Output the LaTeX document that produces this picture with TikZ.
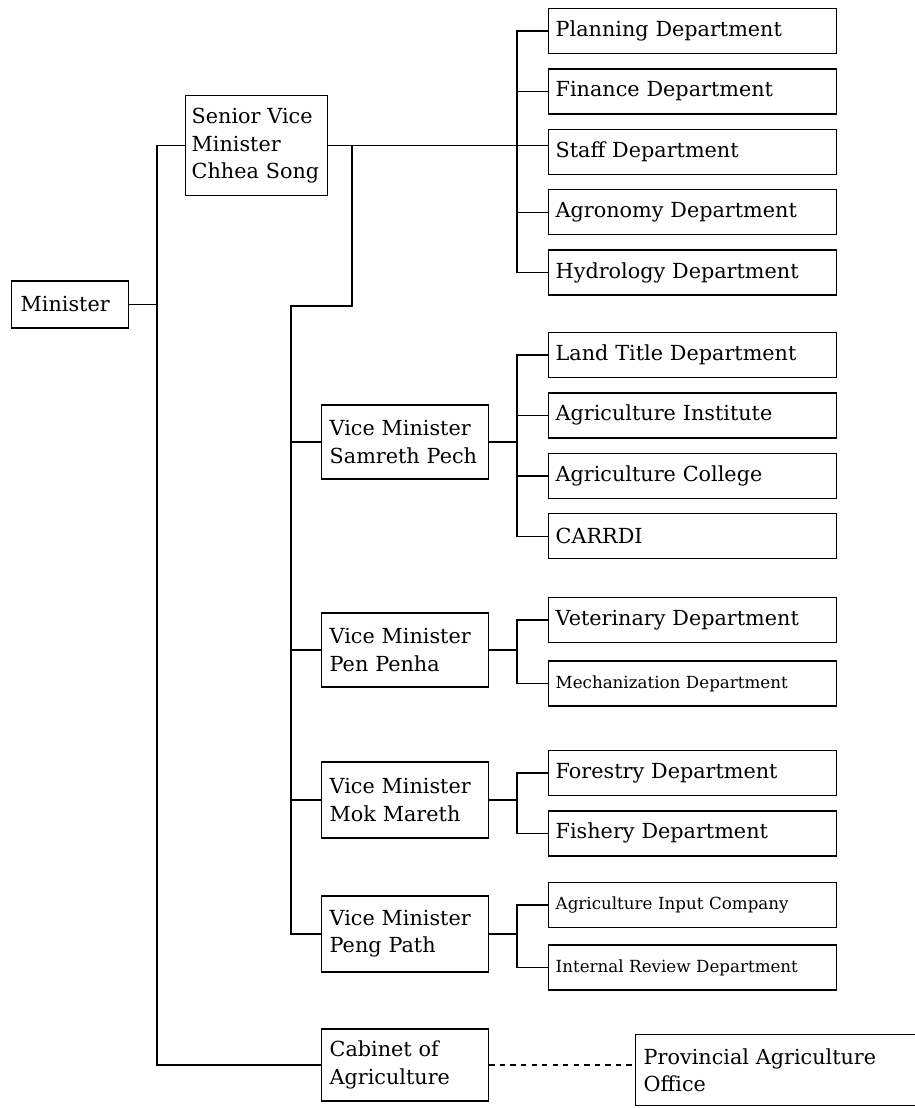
\documentclass[tikz,border=0pt]{standalone}
\usepackage{fontspec}
\setmainfont{DejaVu Serif}
\usetikzlibrary{positioning}
\tikzset{
every picture/.style=thick,
deptnode/.style={rectangle, draw=black, minimum height=0.9cm, text width=5.48cm, inner xsep=0.14cm, align=left, font=\fontsize{11.8}{15}\selectfont},
smalldept/.style={deptnode, font=\fontsize{9.5}{12}\selectfont},
vmnode/.style={rectangle, draw=black, minimum height=1.48cm, text width=3.02cm, inner xsep=0.16cm, align=left, font=\fontsize{11.8}{15.5}\selectfont}
}

\begin{document}
\begin{tikzpicture}[node distance=0.28]
\useasboundingbox (0,0) rectangle (18.3,-22.16);
%Nodes
\node [vmnode, text width=1.98cm, inner xsep=0.18cm, minimum height=0.94cm, anchor=west] (Minister) at (0.22,-6.09) {Minister};
\node [vmnode, text width=2.6cm, inner xsep=0.12cm, minimum height=2cm, anchor=north west] (Senior) at (3.70,-1.90) {Senior Vice\\Minister\\Chhea Song};
\node [vmnode, anchor=west] (Samreth) at (6.42,-8.84) {Vice Minister\\Samreth Pech};
\node [vmnode, anchor=west] (PenPenha) at (6.42,-13.00) {Vice Minister\\Pen Penha};
\node [vmnode, minimum height=1.52cm, anchor=west] (MokMareth) at (6.42,-16.00) {Vice Minister\\Mok Mareth};
\node [vmnode, minimum height=1.52cm, anchor=west] (PengPath) at (6.42,-18.68) {Vice Minister\\Peng Path};
\node [vmnode, minimum height=1.44cm, anchor=west] (Cabinet) at (6.42,-21.30) {Cabinet of\\Agriculture};
\node [vmnode, text width=6cm, minimum height=1.42cm, anchor=west] (Provincial) at (12.70,-21.40) {Provincial Agriculture\\Office};

\node [deptnode, anchor=west] (Planning) at (10.96,-0.62) {Planning Department};
\node [deptnode] (Finance) [below=of Planning] {Finance Department};
\node [deptnode] (Staff) [below=of Finance] {Staff Department};
\node [deptnode] (Agronomy) [below=of Staff] {Agronomy Department};
\node [deptnode] (Hydrology) [below=of Agronomy] {Hydrology Department};

\node [deptnode, anchor=west] (LandTitle) at (10.96,-7.10) {Land Title Department};
\node [deptnode] (AgInstitute) [below=of LandTitle] {Agriculture Institute};
\node [deptnode] (AgCollege) [below=of AgInstitute] {Agriculture College};
\node [deptnode] (CARRDI) [below=of AgCollege] {CARRDI};

\node [deptnode, anchor=west] (Veterinary) at (10.96,-12.40) {Veterinary Department};
\node [smalldept] (Mechanization) [below=0.34 of Veterinary] {Mechanization Department};

\node [deptnode, anchor=west] (Forestry) at (10.96,-15.46) {Forestry Department};
\node [deptnode] (Fishery) [below=of Forestry] {Fishery Department};

\node [smalldept, anchor=west] (AgInput) at (10.96,-18.10) {Agriculture Input Company};
\node [smalldept] (InternalReview) [below=0.32 of AgInput] {Internal Review Department};

%Lines
\coordinate (mtrunk) at (3.14,0);
\coordinate (vbend) at (7.04,-6.12);
\coordinate (vtrunk) at (5.82,-6.12);
\coordinate (dtrunk) at (10.34,0);
\draw (Minister.east) -- (Minister.east -| mtrunk);
\draw (Senior.west) -| (Minister.east -| mtrunk) |- (Cabinet.west);
\draw (Senior.east) -- (Senior.east -| Staff.west);
\draw (vbend |- Senior.east) -- (vbend) -- (vtrunk) |- (PengPath.west);
\foreach \v in {Samreth,PenPenha,MokMareth}
  \draw (\v.west) -- (\v.west -| vtrunk);
\foreach \v in {Samreth,PenPenha,MokMareth,PengPath}
  \draw (\v.east) -- (\v.east -| dtrunk);
\draw (Planning.west) -- (Planning.west -| dtrunk) |- (Hydrology.west);
\draw (LandTitle.west) -- (LandTitle.west -| dtrunk) |- (CARRDI.west);
\draw (Veterinary.west) -- (Veterinary.west -| dtrunk) |- (Mechanization.west);
\draw (Forestry.west) -- (Forestry.west -| dtrunk) |- (Fishery.west);
\draw (AgInput.west) -- (AgInput.west -| dtrunk) |- (InternalReview.west);
\foreach \d in {Finance,Agronomy,AgInstitute,AgCollege}
  \draw (\d.west) -- (\d.west -| dtrunk);
\draw [dashed] (Cabinet.east) -- (Cabinet.east -| Provincial.west);

\end{tikzpicture}
\end{document}
